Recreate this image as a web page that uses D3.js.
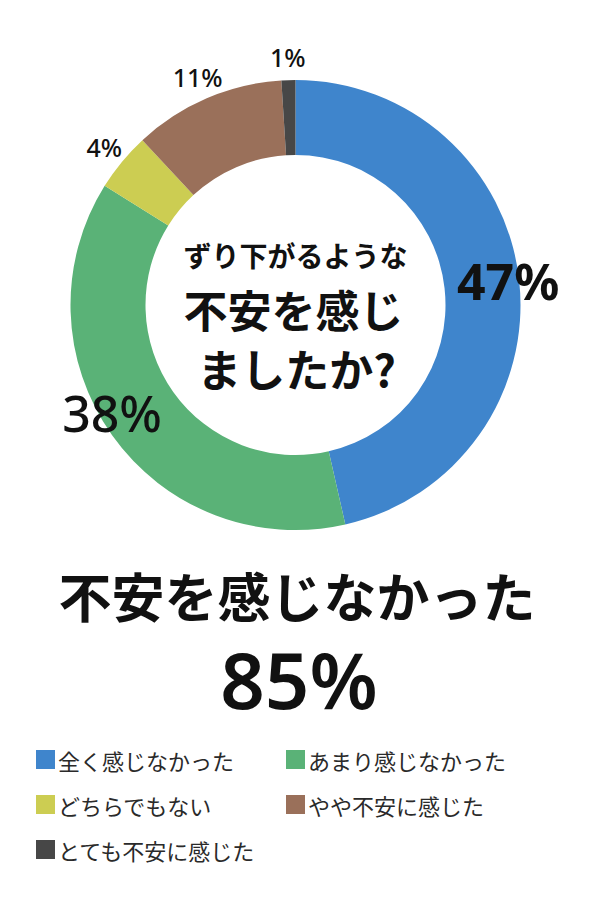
<!DOCTYPE html>
<html><head><meta charset="utf-8">
<script src="https://cdn.jsdelivr.net/npm/d3@7"></script>
<style>
html,body{margin:0;padding:0;background:#fff;}
svg{display:block;}
</style></head>
<body>
<svg id="chart" width="590" height="920"></svg>
<script>
const categories = ["全く感じなかった","あまり感じなかった","どちらでもない","やや不安に感じた","とても不安に感じた"];
const values = [46.4, 37.4, 4.2, 10.9, 1.0];
const valueLabels = ["47%","38%","4%","11%","1%"];
const colors = ["#3f85cc","#5ab277","#cccd52","#9a705a","#474747"];
const centerLines = ["ずり下がるような","不安を感じ","ましたか?"];
const titleText = "不安を感じなかった";
const totalText = "85%";

const svg = d3.select("#chart");
const cx = 295.5, cy = 305, rOuter = 225, rInner = 150;
const jp = "'Noto Sans CJK JP', 'Noto Sans', sans-serif";
const num = "'Noto Sans', sans-serif";

const data = categories.map((c,i)=>({cat:c, value:values[i], label:valueLabels[i], color:colors[i], big: values[i] > 20}));
const pie = d3.pie().sort(null).value(d=>d.value).startAngle(0).endAngle(2*Math.PI);
const arcs = pie(data);
const arc = d3.arc().innerRadius(rInner).outerRadius(rOuter);
const g = svg.append("g").attr("transform",`translate(${cx},${cy})`);
g.selectAll("path").data(arcs).join("path").attr("d",arc).attr("fill",d=>d.data.color);

const bigArc = d3.arc().innerRadius(214).outerRadius(214);
const smallArc = d3.arc().innerRadius(248).outerRadius(248);
g.selectAll("text.val").data(arcs).join("text").attr("class","val")
  .attr("transform",d=>{
    const p=(d.data.big?bigArc:smallArc).centroid(d);
    const shift = (d.data.big && p[0]<0) ? [-9,-16] : [0,0];
    return `translate(${p[0]+shift[0]},${p[1]+shift[1]})`;})
  .attr("text-anchor","middle").attr("dominant-baseline","central")
  .attr("font-family",num)
  .attr("font-size",d=>d.data.big?50:25)
  .attr("font-weight",(d,i)=>i===0?700:500)
  .attr("fill","#111")
  .text(d=>d.data.label);

// center text
const ct = svg.append("g").attr("font-family",jp).attr("font-weight",700).attr("fill","#111").attr("text-anchor","middle");
ct.append("text").attr("x",cx).attr("y",255).attr("dominant-baseline","central").attr("font-size",28).text(centerLines[0]);
ct.append("text").attr("x",cx-2).attr("y",309).attr("dominant-baseline","central").attr("font-size",44).text(centerLines[1]);
ct.append("text").attr("x",cx+1).attr("y",368).attr("dominant-baseline","central").attr("font-size",44).text(centerLines[2]);

// title
svg.append("text").attr("x",297).attr("y",595).attr("text-anchor","middle").attr("dominant-baseline","central")
  .attr("font-family",jp).attr("font-weight",700).attr("font-size",53).attr("fill","#111").text(titleText);
svg.append("text").attr("x",299).attr("y",679).attr("text-anchor","middle").attr("dominant-baseline","central")
  .attr("font-family","'Noto Sans', sans-serif").attr("font-weight",600).attr("font-size",78).attr("fill","#111").text(totalText);

// legend
const leg = svg.append("g");
const items = leg.selectAll("g").data(data).join("g")
  .attr("transform",(d,i)=>`translate(${i%2===0?36:286},${759 + Math.floor(i/2)*45})`);
items.append("rect").attr("x",0).attr("y",-9).attr("width",19).attr("height",19).attr("fill",d=>d.color);
items.append("text").attr("x",22).attr("y",1).attr("dominant-baseline","central")
  .attr("font-family",jp).attr("font-size",22).attr("fill","#2a2a2a").text(d=>d.cat);
</script>
</body></html>
